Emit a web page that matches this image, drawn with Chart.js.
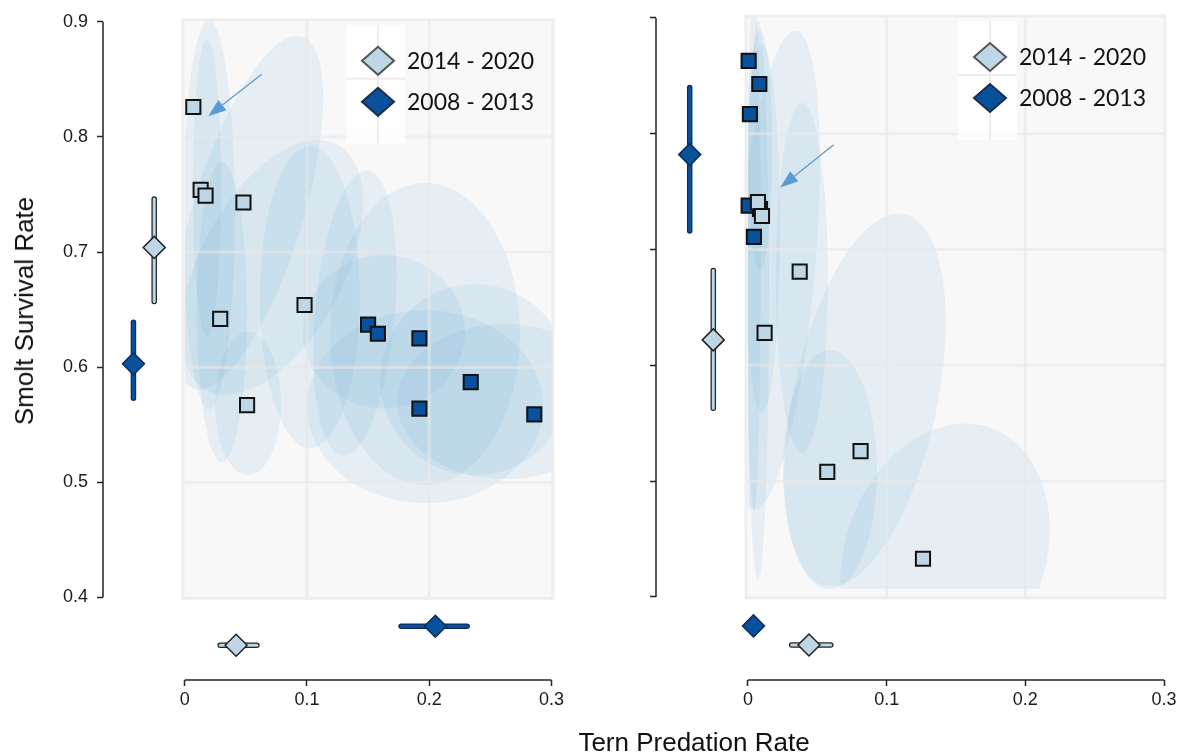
<!DOCTYPE html>
<html>
<head>
<meta charset="utf-8">
<script src="https://cdn.jsdelivr.net/npm/chart.js@4.4.1/dist/chart.umd.min.js"></script>
<style>
  html, body { margin: 0; background: #fff; overflow: hidden; }
  #fig { position: relative; width: 1180px; height: 754px; overflow: hidden; }
  #fig canvas { position: absolute; top: 0; }
  #left { left: 0; }
  #right { left: 590px; }
  .axt { position: absolute; font-family: "Liberation Sans", Arial, sans-serif; font-size: 26px; line-height: 1; color: #111; white-space: nowrap; }
  #ytitle { left: 24px; top: 311px; transform: translate(-50%, -50%) rotate(-90deg); }
  #xtitle { left: 694px; top: 742px; transform: translate(-50%, -50%); }
</style>
</head>
<body>
<div id="fig">
  <canvas id="left" width="590" height="754"></canvas>
  <canvas id="right" width="590" height="754"></canvas>
  <div class="axt" id="ytitle">Smolt Survival Rate</div>
  <div class="axt" id="xtitle">Tern Predation Rate</div>
</div>
<script>
const seriesNames = ['2014 - 2020', '2008 - 2013']
const xTicks = [0, 0.1, 0.2, 0.3]
const yTicks = [0.4, 0.5, 0.6, 0.7, 0.8, 0.9]

// yearly estimates, left panel
const leftRecentPred = [0.007, 0.013, 0.017, 0.048, 0.098, 0.029, 0.051]
const leftRecentSurv = [0.826, 0.754, 0.749, 0.743, 0.654, 0.642, 0.567]
const leftEarlyPred = [0.150, 0.158, 0.192, 0.234, 0.192, 0.286]
const leftEarlySurv = [0.637, 0.629, 0.625, 0.587, 0.564, 0.559]

// yearly estimates, right panel
const rightRecentPred = [0.0072, 0.0101, 0.0373, 0.012, 0.0812, 0.0572, 0.1262]
const rightRecentSurv = [0.741, 0.729, 0.681, 0.628, 0.526, 0.508, 0.433]
const rightEarlyPred = [0.0005, 0.0082, 0.0014, 0.0005, 0.0087, 0.0043]
const rightEarlySurv = [0.863, 0.843, 0.817, 0.738, 0.735, 0.711]

// period means [2014-2020, 2008-2013] with intervals
const leftSurvMean = [0.704, 0.603]
const leftSurvLow = [0.657, 0.573]
const leftSurvHigh = [0.746, 0.639]
const leftPredMean = [0.042, 0.205]
const leftPredLow = [0.029, 0.177]
const leftPredHigh = [0.059, 0.231]

const rightSurvMean = [0.622, 0.782]
const rightSurvLow = [0.563, 0.716]
const rightSurvHigh = [0.682, 0.840]
const rightPredMean = [0.044, 0.004]
const rightPredLow = [0.0315, 0.004]
const rightPredHigh = [0.0597, 0.004]

// where the marginal means sit outside the 0-0.3 / 0.4-0.9 box
const meanLaneX = [-0.025, -0.042]
const meanLaneY = [0.3585, 0.375]

// uncertainty regions: [centre x, centre y, radius x, radius y, tilt deg]
const leftRegions = [
  [0.0198, 0.7325, 0.0213, 0.169, 0],
  [0.0182, 0.7558, 0.0115, 0.1295, 0],
  [0.0304, 0.6478, 0.0205, 0.1304, 0],
  [0.0518, 0.5684, 0.027, 0.0622, 0],
  [0.0518, 0.7342, 0.045, 0.1598, 17],
  [0.0714, 0.6867, 0.0589, 0.1209, 28],
  [0.1024, 0.6608, 0.0409, 0.1313, 0],
  [0.163, 0.6306, 0.0663, 0.0665, 0],
  [0.1393, 0.647, 0.0327, 0.1244, 5],
  [0.1966, 0.6288, 0.0777, 0.1313, 0],
  [0.2375, 0.5891, 0.0777, 0.0829, 0],
  [0.1966, 0.5658, 0.0966, 0.0838, 0],
  [0.262, 0.5701, 0.0884, 0.0674, 0]
]
const rightRegions = [
  [0.0043, 0.6997, 0.005, 0.2245, 0],
  [0.0072, 0.6565, 0.0079, 0.2418, 0],
  [0.0101, 0.7187, 0.013, 0.1589, 0],
  [0.0087, 0.786, 0.0087, 0.1036, 0],
  [0.0195, 0.6824, 0.0288, 0.2073, 5],
  [0.0389, 0.6755, 0.0188, 0.1511, 0],
  [0.0591, 0.5097, 0.0339, 0.1036, 0],
  [0.0844, 0.5701, 0.0519, 0.1641, 12],
  [0.1421, 0.4363, 0.0721, 0.1166, 20]
]

// annotation arrows [from x, from y, to x, to y]
const leftArrow = [0.063, 0.8545, 0.0192, 0.818]
const rightArrow = [0.0618, 0.7905, 0.0233, 0.7536]

const lightFill = '#bdd7e7'
const darkFill = '#08519c'

function pts(xs, ys) {
  return xs.map((v, i) => ({x: v, y: ys[i]}))
}

function makeDecor(p) {
  return {
    id: 'decor',
    beforeDatasetsDraw(chart) {
      const ctx = chart.ctx
      const area = chart.chartArea
      const x = chart.scales.x, y = chart.scales.y
      const gx0 = x.getPixelForValue(0) - 2
      const gy1 = y.getPixelForValue(0.4) + 1
      ctx.save()
      ctx.fillStyle = '#f8f8f8'
      ctx.fillRect(gx0, area.top, area.right - gx0, gy1 - area.top)

      // regions
      ctx.save()
      ctx.beginPath()
      const cx0 = x.getPixelForValue(0)
      ctx.rect(cx0, area.top, area.right - cx0, y.getPixelForValue(0.407) - area.top)
      ctx.clip()
      ctx.fillStyle = 'rgba(107,174,214,0.12)'
      p.regions.forEach(([cx, cy, rx, ry, rot]) => {
        const px = x.getPixelForValue(cx), py = y.getPixelForValue(cy)
        const prx = Math.abs(x.getPixelForValue(cx + rx) - px)
        const pry = Math.abs(y.getPixelForValue(cy + ry) - py)
        ctx.beginPath()
        ctx.ellipse(px, py, prx, pry, rot * Math.PI / 180, 0, Math.PI * 2)
        ctx.fill()
      })
      ctx.restore()

      // grid
      ctx.strokeStyle = 'rgba(232,232,232,0.6)'
      ctx.lineWidth = 3
      ;[0.1, 0.2].forEach(v => {
        const px = x.getPixelForValue(v)
        ctx.beginPath(); ctx.moveTo(px, area.top); ctx.lineTo(px, gy1); ctx.stroke()
      })
      ;[0.5, 0.6, 0.7, 0.8].forEach(v => {
        const py = y.getPixelForValue(v)
        ctx.beginPath(); ctx.moveTo(gx0, py); ctx.lineTo(area.right, py); ctx.stroke()
      })
      ctx.strokeStyle = 'rgba(236,236,236,0.9)'
      ctx.strokeRect(gx0, area.top, area.right - gx0, gy1 - area.top)

      // arrow
      const [a0, a1, a2, a3] = p.arrow
      const X0 = x.getPixelForValue(a0), Y0 = y.getPixelForValue(a1)
      const X1 = x.getPixelForValue(a2), Y1 = y.getPixelForValue(a3)
      const ang = Math.atan2(Y1 - Y0, X1 - X0)
      const bx = X1 - 18 * Math.cos(ang), by = Y1 - 18 * Math.sin(ang)
      ctx.strokeStyle = '#5b9bd5'
      ctx.fillStyle = '#5b9bd5'
      ctx.lineWidth = 1.3
      ctx.beginPath(); ctx.moveTo(X0, Y0); ctx.lineTo(bx, by); ctx.stroke()
      ctx.beginPath()
      ctx.moveTo(X1, Y1)
      ctx.lineTo(bx + 6.5 * Math.sin(ang), by - 6.5 * Math.cos(ang))
      ctx.lineTo(bx - 6.5 * Math.sin(ang), by + 6.5 * Math.cos(ang))
      ctx.closePath()
      ctx.fill()

      // interval bars for the means
      ctx.lineCap = 'round'
      const fills = [lightFill, darkFill]
      const edges = ['#222', '#0b2d5c']
      for (let i = 0; i < 2; i++) {
        const lx = x.getPixelForValue(meanLaneX[i])
        const t = y.getPixelForValue(p.survHigh[i]), b = y.getPixelForValue(p.survLow[i])
        ctx.strokeStyle = edges[i]; ctx.lineWidth = 5.5
        ctx.beginPath(); ctx.moveTo(lx, t); ctx.lineTo(lx, b); ctx.stroke()
        ctx.strokeStyle = fills[i]; ctx.lineWidth = 3
        ctx.beginPath(); ctx.moveTo(lx, t); ctx.lineTo(lx, b); ctx.stroke()
        if (p.predHigh[i] > p.predLow[i]) {
          const ly = y.getPixelForValue(meanLaneY[i])
          const l = x.getPixelForValue(p.predLow[i]), r = x.getPixelForValue(p.predHigh[i])
          ctx.strokeStyle = edges[i]; ctx.lineWidth = 5.5
          ctx.beginPath(); ctx.moveTo(l, ly); ctx.lineTo(r, ly); ctx.stroke()
          ctx.strokeStyle = fills[i]; ctx.lineWidth = 3
          ctx.beginPath(); ctx.moveTo(l, ly); ctx.lineTo(r, ly); ctx.stroke()
        }
      }
      ctx.restore()
    },
    afterDatasetsDraw(chart) {
      const ctx = chart.ctx
      const area = chart.chartArea
      const x = chart.scales.x, y = chart.scales.y
      ctx.save()
      // axis lines only over the labelled range
      ctx.strokeStyle = '#222'
      ctx.lineWidth = 1.5
      ctx.beginPath()
      ctx.moveTo(x.getPixelForValue(0), area.bottom)
      ctx.lineTo(x.getPixelForValue(0.3), area.bottom)
      ctx.stroke()
      ctx.beginPath()
      ctx.moveTo(area.left, y.getPixelForValue(0.4))
      ctx.lineTo(area.left, y.getPixelForValue(0.9))
      ctx.stroke()

      // legend
      const lx = area.right - 207, ly = area.top + 5
      ctx.fillStyle = 'rgba(255,255,255,0.8)'
      ctx.fillRect(lx, ly, 59, 119)
      ctx.strokeStyle = 'rgba(225,225,225,0.6)'
      ctx.lineWidth = 2
      ctx.beginPath(); ctx.moveTo(lx + 32, ly); ctx.lineTo(lx + 32, ly + 119); ctx.stroke()
      ctx.beginPath(); ctx.moveTo(lx, ly + 54); ctx.lineTo(lx + 59, ly + 54); ctx.stroke()
      const rows = [ly + 36, ly + 77]
      const fills = [lightFill, darkFill]
      const edges = ['#555', '#1c2e4a']
      rows.forEach((ry, i) => {
        const dx = lx + 32
        ctx.beginPath()
        ctx.moveTo(dx - 16, ry); ctx.lineTo(dx, ry - 14); ctx.lineTo(dx + 16, ry); ctx.lineTo(dx, ry + 14)
        ctx.closePath()
        ctx.fillStyle = fills[i]; ctx.fill()
        ctx.strokeStyle = edges[i]; ctx.lineWidth = 2; ctx.stroke()
        ctx.fillStyle = '#111'
        ctx.font = '23px Lato'
        ctx.textBaseline = 'middle'
        ctx.fillText(seriesNames[i], lx + 61, ry + 1)
      })
      ctx.restore()
    }
  }
}

function buildChart(id, p) {
  return new Chart(document.getElementById(id), {
    type: 'scatter',
    data: {
      datasets: [{
        label: seriesNames[0],
        data: pts(p.recentPred, p.recentSurv),
        pointStyle: 'rect',
        pointRadius: 10,
        backgroundColor: lightFill,
        borderColor: '#111',
        borderWidth: 2
      }, {
        label: seriesNames[1],
        data: pts(p.earlyPred, p.earlySurv),
        pointStyle: 'rect',
        pointRadius: 10,
        backgroundColor: darkFill,
        borderColor: '#111',
        borderWidth: 2
      }, {
        label: seriesNames[0] + ' mean',
        data: [{x: meanLaneX[0], y: p.survMean[0]}, {x: p.predMean[0], y: meanLaneY[0]}],
        pointStyle: 'rectRot',
        pointRadius: 11,
        backgroundColor: lightFill,
        borderColor: '#222',
        borderWidth: 1.5
      }, {
        label: seriesNames[1] + ' mean',
        data: [{x: meanLaneX[1], y: p.survMean[1]}, {x: p.predMean[1], y: meanLaneY[1]}],
        pointStyle: 'rectRot',
        pointRadius: 11,
        backgroundColor: darkFill,
        borderColor: '#0b2d5c',
        borderWidth: 1.5
      }]
    },
    options: {
      responsive: false,
      animation: false,
      events: [],
      layout: {
        padding: {left: 0, right: p.padRight, top: 16, bottom: 0}
      },
      plugins: {
        legend: {display: false},
        tooltip: {enabled: false}
      },
      scales: {
        x: {
          type: 'linear',
          min: p.xMin,
          max: p.xMax,
          afterBuildTicks: s => { s.ticks = xTicks.map(v => ({value: v})) },
          afterFit: s => { s.height = 74 },
          border: {display: false},
          grid: {drawOnChartArea: false, drawTicks: true, tickLength: 6, tickColor: '#222', tickWidth: 1.5},
          ticks: {
            color: '#1a1a1a',
            padding: 3,
            maxRotation: 0,
            autoSkip: false,
            font: {family: 'Liberation Sans', size: 18},
            callback: v => v === 0 ? '0' : v.toFixed(1)
          }
        },
        y: {
          type: 'linear',
          min: 0.3283,
          max: 0.9017,
          afterBuildTicks: s => { s.ticks = yTicks.map(v => ({value: v})) },
          afterFit: s => { s.width = p.yWidth },
          border: {display: false},
          grid: {drawOnChartArea: false, drawTicks: true, tickLength: 6, tickColor: '#222', tickWidth: 1.5},
          ticks: {
            display: p.yLabels,
            color: '#1a1a1a',
            padding: 9,
            font: {family: 'Liberation Sans', size: 18},
            callback: v => v.toFixed(1)
          }
        }
      }
    },
    plugins: [makeDecor(p)]
  })
}

buildChart('left', {
  recentPred: leftRecentPred, recentSurv: leftRecentSurv,
  earlyPred: leftEarlyPred, earlySurv: leftEarlySurv,
  survMean: leftSurvMean, survLow: leftSurvLow, survHigh: leftSurvHigh,
  predMean: leftPredMean, predLow: leftPredLow, predHigh: leftPredHigh,
  regions: leftRegions, arrow: leftArrow,
  xMin: -0.0669, xMax: 0.3013, yWidth: 103, padRight: 37, yLabels: true
})

buildChart('right', {
  recentPred: rightRecentPred, recentSurv: rightRecentSurv,
  earlyPred: rightEarlyPred, earlySurv: rightEarlySurv,
  survMean: rightSurvMean, survLow: rightSurvLow, survHigh: rightSurvHigh,
  predMean: rightPredMean, predLow: rightPredLow, predHigh: rightPredHigh,
  regions: rightRegions, arrow: rightArrow,
  xMin: -0.0663, xMax: 0.3007, yWidth: 66, padRight: 15, yLabels: false
})
</script>
</body>
</html>
